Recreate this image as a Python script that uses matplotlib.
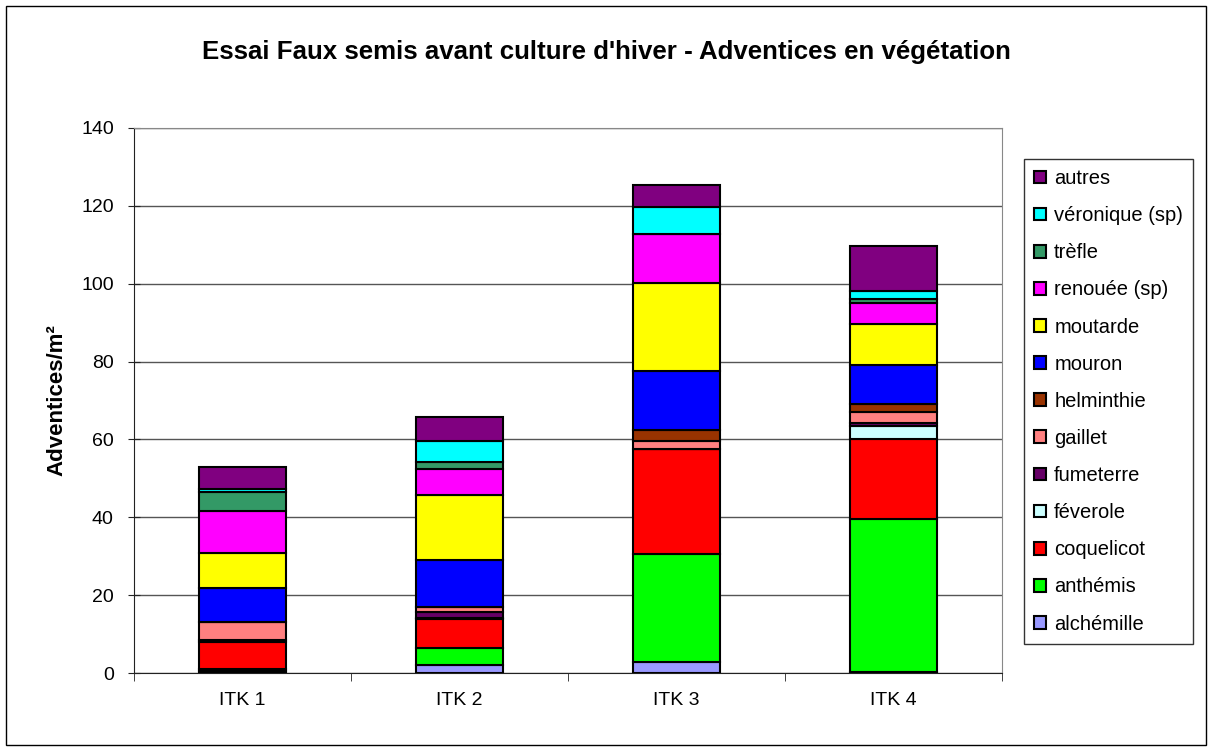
import matplotlib
matplotlib.use('Agg')
import matplotlib.pyplot as plt
import matplotlib.patches as patches
import numpy as np
plt.rcParams['font.family'] = ['Liberation Sans', 'DejaVu Sans']

categories = ['ITK 1', 'ITK 2', 'ITK 3', 'ITK 4']
species = ['alchémille', 'anthémis', 'coquelicot', 'féverole', 'fumeterre', 'gaillet',
           'helminthie', 'mouron', 'moutarde', 'renouée (sp)', 'trèfle', 'véronique (sp)', 'autres']
alchemille = [0.5, 2.0, 2.9, 0.3]
anthemis = [0.5, 4.4, 27.6, 39.2]
coquelicot = [7.0, 7.5, 27.0, 20.5]
feverole = [0.5, 0.3, 0.0, 3.4]
fumeterre = [0.0, 1.4, 0.0, 0.9]
gaillet = [4.7, 1.3, 2.0, 2.7]
helminthie = [0.0, 0.0, 2.9, 2.1]
mouron = [8.6, 12.2, 15.3, 10.0]
moutarde = [8.9, 16.5, 22.4, 10.5]
renouee = [11.0, 6.9, 12.6, 5.4]
trefle = [4.7, 1.6, 0.0, 1.1]
veronique = [0.8, 5.5, 7.0, 2.0]
autres = [5.6, 6.1, 5.6, 11.7]
values = [alchemille, anthemis, coquelicot, feverole, fumeterre, gaillet,
          helminthie, mouron, moutarde, renouee, trefle, veronique, autres]
colors = ['#9999FF', '#00FF00', '#FF0000', '#CCFFFF', '#660066', '#FF8080',
          '#993300', '#0000FF', '#FFFF00', '#FF00FF', '#339966', '#00FFFF', '#800080']

W, H = 1212, 751
fig = plt.figure(figsize=(W / 100, H / 100), dpi=100)
ax = fig.add_axes([134 / W, 1 - 673 / H, 868 / W, 545 / H])

x = np.arange(len(categories))
bottom = np.zeros(len(categories))
handles = []
for name, vals, col in zip(species, values, colors):
    vals = np.array(vals)
    b = ax.bar(x, vals, 0.4, bottom=bottom, color=col, edgecolor='black',
               linewidth=1.5, label=name, zorder=3)
    bottom += vals
    handles.append(b)

ax.set_xlim(-0.5, 3.5)
ax.set_ylim(0, 140)
ax.set_yticks(range(0, 141, 20))
ax.set_xticks(x)
ax.set_xticklabels(categories)
ax.set_xticks(np.arange(-0.5, 3.6, 1), minor=True)
ax.yaxis.grid(True, color='#555555', linewidth=1)
ax.set_axisbelow(True)
for s in ['top', 'right']:
    ax.spines[s].set_color('#888888')
ax.spines['left'].set_color('#222222')
ax.spines['bottom'].set_color('#222222')
ax.tick_params(axis='y', labelsize=14, direction='inout', length=9, color='#222222', pad=10)
ax.tick_params(axis='x', which='major', labelsize=14, length=0, pad=14)
ax.tick_params(axis='x', which='minor', direction='out', length=6, color='#222222')
ax.set_ylabel('Adventices/m²', fontsize=16, fontweight='bold', labelpad=10)

fig.text(0.5, 1 - 52 / H, "Essai Faux semis avant culture d'hiver - Adventices en végétation",
         ha='center', va='center', fontsize=18.6, fontweight='bold')

leg = fig.legend(handles[::-1], species[::-1], loc='upper left',
                 bbox_to_anchor=(1024 / W, 1 - 159 / H), fontsize=14.5,
                 frameon=True, fancybox=False, edgecolor='black', handlelength=0.6,
                 handleheight=0.6, handletextpad=0.4, labelspacing=0.9,
                 borderpad=0.5, borderaxespad=0)
leg.get_frame().set_linewidth(1)

fig.patches.append(patches.Rectangle((6 / W, 6 / H), 1200 / W, 739 / H,
                                     transform=fig.transFigure, fill=False,
                                     edgecolor='black', linewidth=1))

fig.savefig('out.png', dpi=100)
